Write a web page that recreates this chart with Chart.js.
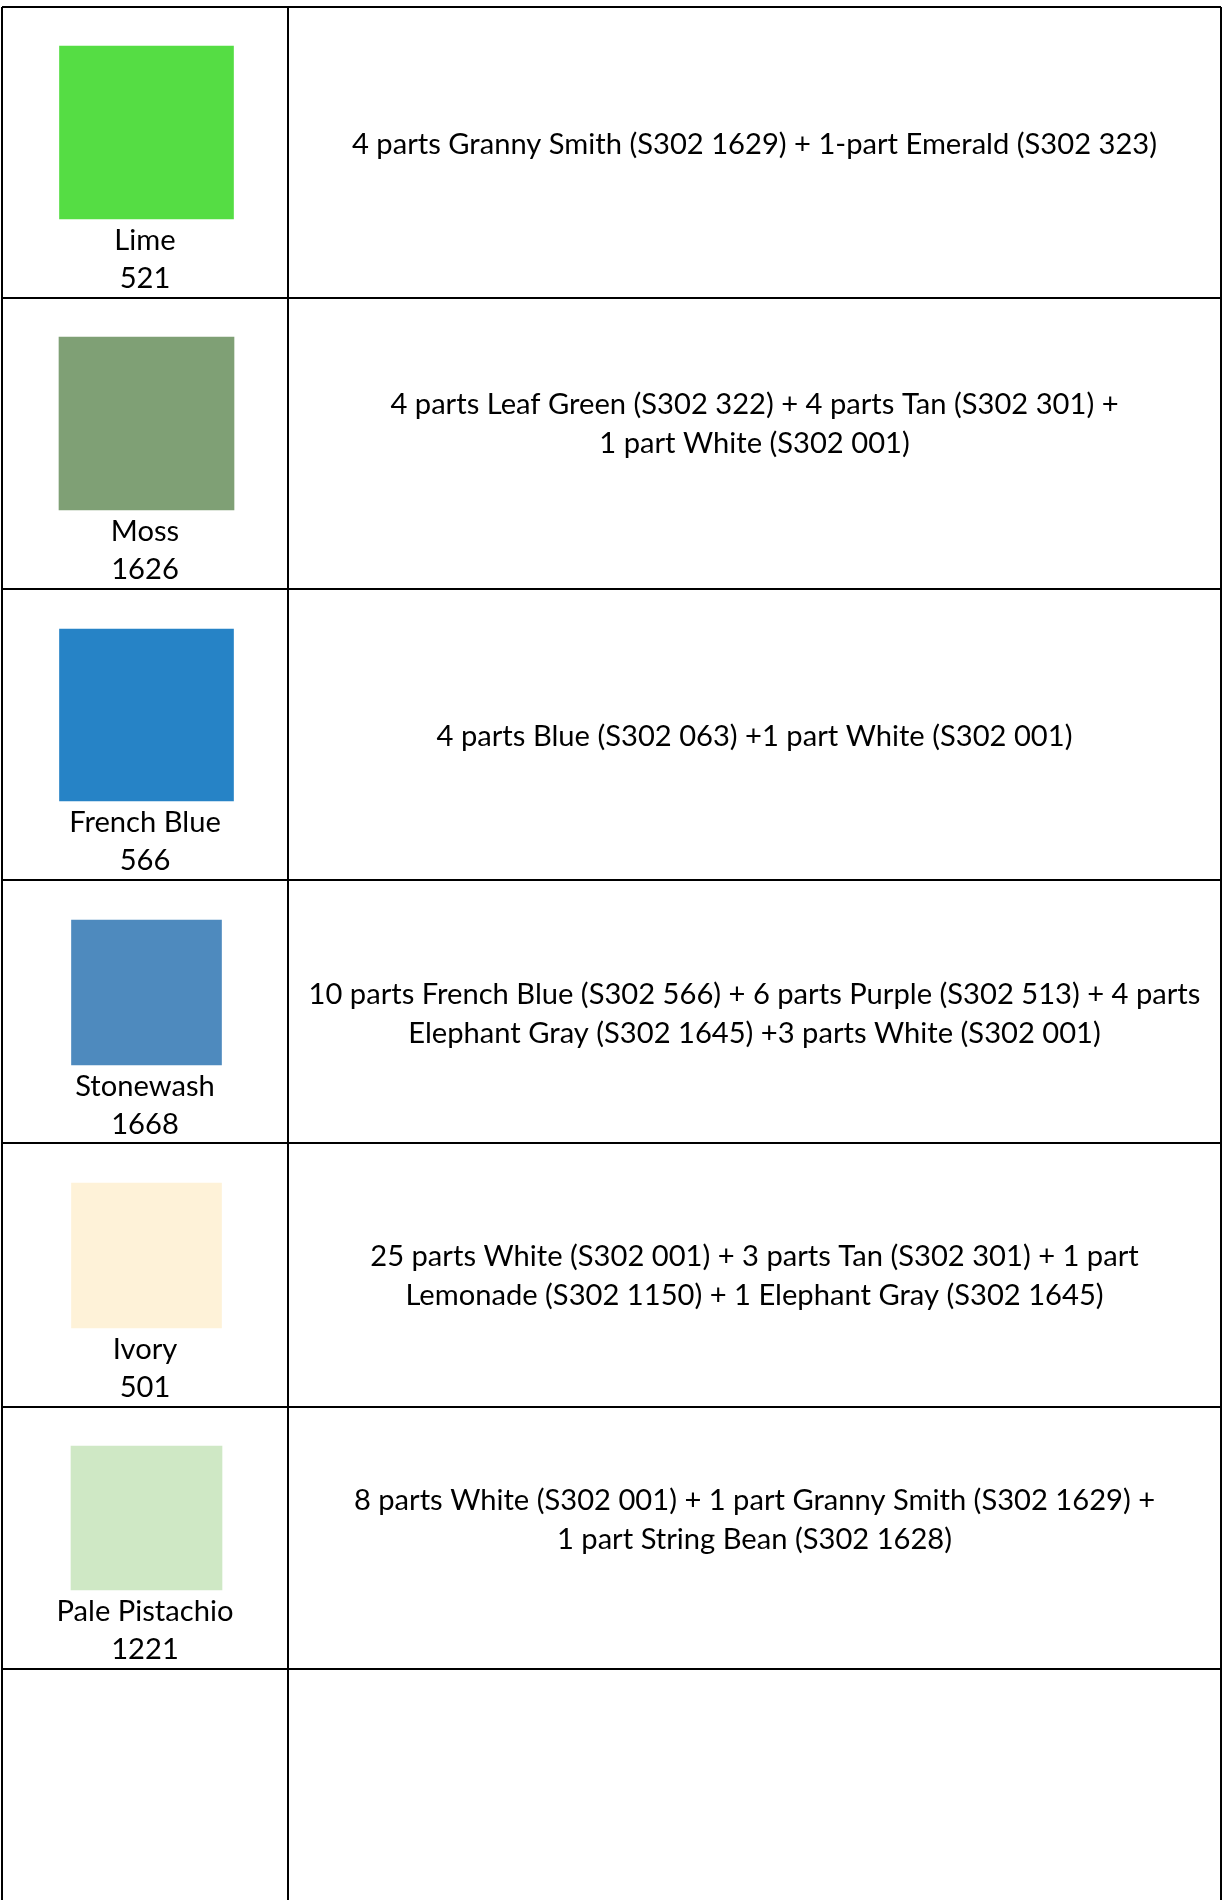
<!DOCTYPE html>
<html>
<head>
<meta charset="utf-8">
<script src="https://cdn.jsdelivr.net/npm/chart.js@4/dist/chart.umd.min.js"></script>
<style>
  html, body { margin: 0; padding: 0; background: #ffffff; }
  #wrap { width: 1225px; height: 1900px; }
</style>
</head>
<body>
<div id="wrap"><canvas id="c" width="1225" height="1900"></canvas></div>
<script>
// ---------- DATA ----------
const colorNames = ['Lime', 'Moss', 'French Blue', 'Stonewash', 'Ivory', 'Pale Pistachio'];
const colorCodes = ['521', '1626', '566', '1668', '501', '1221'];
const swatchColors = ['#55DD44', '#7FA075', '#2683C6', '#4E8ABE', '#FEF2D8', '#CFE8C5'];
const recipes = [
  ['4 parts Granny Smith (S302 1629) + 1-part Emerald (S302 323)'],
  ['4 parts Leaf Green (S302 322) + 4 parts Tan (S302 301) +', '1 part White (S302 001)'],
  ['4 parts Blue (S302 063) +1 part White (S302 001)'],
  ['10 parts French Blue (S302 566) + 6 parts Purple (S302 513) + 4 parts', 'Elephant Gray (S302 1645) +3 parts White (S302 001)'],
  ['25 parts White (S302 001) + 3 parts Tan (S302 301) + 1 part', 'Lemonade (S302 1150) + 1 Elephant Gray (S302 1645)'],
  ['8 parts White (S302 001) + 1 part Granny Smith (S302 1629) +', '1 part String Bean (S302 1628)']
];

// ---------- LAYOUT (table geometry, in scale units) ----------
const colEdges = [2, 288, 1221];
const rowEdges = [7, 298, 589, 880, 1143, 1407, 1669];   // last row continues past the page
const swatchSizes = [[174, 173], [175, 173], [174, 172], [150, 145], [150, 145], [151, 144]];
const swatchTopOffset = [39, 39, 40, 40, 40, 39];
const swatchCenterX = 146.5;
const recipeFirstBaselineOffset = [147, 116, 156.5, 124, 123, 103];
const lineStep = 39;
const labelOffsets = [31, 69];
const FONT = '29px Lato, "Open Sans", sans-serif';
const REF_LINE_WIDTH = 805;   // width of first recipe line in the reference

// ---------- DATASETS (one floating bar per swatch) ----------
const datasets = colorNames.map((name, i) => {
  const top = rowEdges[i] + swatchTopOffset[i];
  const bottom = top + swatchSizes[i][1];
  return {
    label: name,
    data: [{ x: swatchCenterX, y: [top, bottom] }],
    backgroundColor: swatchColors[i],
    borderWidth: 0,
    barThickness: swatchSizes[i][0],
    grouped: false
  };
});

const textPlugin = {
  id: 'tableText',
  afterDatasetsDraw(chart) {
    const { ctx, scales } = chart;
    const xs = scales.x, ys = scales.y;
    ctx.save();
    ctx.fillStyle = '#000000';
    ctx.font = FONT;
    ctx.textAlign = 'center';
    ctx.textBaseline = 'alphabetic';
    const sx = REF_LINE_WIDTH / ctx.measureText(recipes[0][0]).width;
    const draw = (txt, vx, vy) => {
      ctx.save();
      ctx.translate(xs.getPixelForValue(vx), ys.getPixelForValue(vy));
      ctx.scale(sx, 1);
      ctx.fillText(txt, 0, 0);
      ctx.restore();
    };
    const leftCenter = (colEdges[0] + colEdges[1]) / 2;
    const rightCenter = (colEdges[1] + colEdges[2]) / 2;
    colorNames.forEach((name, i) => {
      const bottom = rowEdges[i] + swatchTopOffset[i] + swatchSizes[i][1];
      draw(name, leftCenter, bottom + labelOffsets[0]);
      draw(colorCodes[i], leftCenter, bottom + labelOffsets[1]);
      recipes[i].forEach((line, k) => {
        draw(line, rightCenter, rowEdges[i] + recipeFirstBaselineOffset[i] + k * lineStep);
      });
    });
    ctx.restore();
  }
};

new Chart(document.getElementById('c'), {
  type: 'bar',
  data: { datasets },
  options: {
    responsive: false,
    devicePixelRatio: 1,
    animation: false,
    events: [],
    layout: { padding: { left: 2, top: 7, right: 4, bottom: 0 } },
    plugins: { legend: { display: false }, tooltip: { enabled: false }, title: { display: false } },
    scales: {
      x: {
        type: 'linear', position: 'bottom', offset: false,
        min: colEdges[0], max: colEdges[2],
        afterBuildTicks: s => { s.ticks = colEdges.map(v => ({ value: v })); },
        afterFit: s => { s.height = 0; },
        ticks: { display: false },
        border: { display: false },
        grid: { color: '#000000', lineWidth: 2, drawTicks: false, offset: false }
      },
      y: {
        type: 'linear', reverse: true, offset: false,
        min: rowEdges[0], max: 1900,
        afterBuildTicks: s => { s.ticks = rowEdges.map(v => ({ value: v })); },
        afterFit: s => { s.width = 0; },
        ticks: { display: false },
        border: { display: false },
        grid: { color: '#000000', lineWidth: 2, drawTicks: false, offset: false }
      }
    }
  },
  plugins: [textPlugin]
});
</script>
</body>
</html>
